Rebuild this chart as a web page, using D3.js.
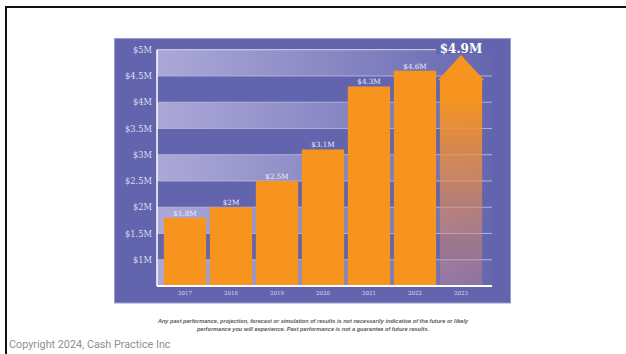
<!DOCTYPE html>
<html>
<head>
<meta charset="utf-8">
<script src="https://cdn.jsdelivr.net/npm/d3@7"></script>
<style>
  html, body { margin: 0; padding: 0; background: #fff; }
  svg { display: block; }
</style>
</head>
<body>
<svg id="chart" width="626" height="354"></svg>
<script>
// Annual revenue, in millions of dollars
const years = ["2017", "2018", "2019", "2020", "2021", "2022", "2023"];
const revenue = [1.8, 2.0, 2.5, 3.1, 4.3, 4.6, 4.9];
const valueLabels = ["$1.8M", "$2M", "$2.5M", "$3.1M", "$4.3M", "$4.6M", "$4.9M"];
const yTicks = [1, 1.5, 2, 2.5, 3, 3.5, 4, 4.5, 5];
const yTickLabels = ["$1M", "$1.5M", "$2M", "$2.5M", "$3M", "$3.5M", "$4M", "$4.5M", "$5M"];
const disclaimer = [
  "Any past performance, projection, forecast or simulation of results is not necessarily indicative of the future or likely",
  "performance you will experience. Past performance is not a guarantee of future results."
];
const copyright = "Copyright 2024, Cash Practice Inc";

const PANEL = "#6264ad";
const ORANGE = "#f7941d";
const SERIF = "'DejaVu Serif', serif";

const svg = d3.select("#chart");
const defs = svg.append("defs");

// Frame lines along the top and left
svg.append("rect").attr("x", 5).attr("y", 6).attr("width", 621).attr("height", 2).attr("fill", "#111");
svg.append("rect").attr("x", 5).attr("y", 6).attr("width", 2).attr("height", 348).attr("fill", "#111");

// Purple panel
svg.append("rect")
  .attr("x", 114.5).attr("y", 38.5).attr("width", 396).attr("height", 264.5)
  .attr("fill", PANEL).attr("stroke", "#9a9bd0").attr("stroke-width", 1);

const plotLeft = 157, plotRight = 492;
const x = d3.scaleBand().domain(years).range([162, 484]).paddingInner(0.08).paddingOuter(0.04);
const y = d3.scaleLinear().domain([0.5, 5]).range([286, 49.7]);

// Alternating shaded bands, fading to the right
const bandGrad = defs.append("linearGradient").attr("id", "bandGrad")
  .attr("gradientUnits", "userSpaceOnUse")
  .attr("x1", plotLeft).attr("x2", plotRight).attr("y1", 0).attr("y2", 0);
bandGrad.append("stop").attr("offset", 0).attr("stop-color", "#aca8d8").attr("stop-opacity", 1);
bandGrad.append("stop").attr("offset", 0.55).attr("stop-color", "#aca8d8").attr("stop-opacity", 0.5);
bandGrad.append("stop").attr("offset", 1).attr("stop-color", "#aca8d8").attr("stop-opacity", 0.04);

const bandEdges = [0.5].concat(yTicks);
const shaded = bandEdges.slice(0, -1).map((lo, i) => [lo, bandEdges[i + 1]])
  .filter((d, i) => i % 2 === 0);
svg.append("g").selectAll("rect").data(shaded).join("rect")
  .attr("x", plotLeft).attr("width", plotRight - plotLeft)
  .attr("y", d => y(d[1])).attr("height", d => y(d[0]) - y(d[1]))
  .attr("fill", "url(#bandGrad)");

// Horizontal gridlines
svg.append("g").selectAll("line").data(yTicks).join("line")
  .attr("x1", plotLeft).attr("x2", plotRight)
  .attr("y1", d => y(d)).attr("y2", d => y(d))
  .attr("stroke", d => d === 5 ? "#d8d8ef" : "#b2b1dc").attr("stroke-width", 1);

// Y axis labels
const yAxis = d3.axisLeft(y).tickValues(yTicks)
  .tickFormat((d, i) => yTickLabels[i]).tickSize(0).tickPadding(5);
svg.append("g").attr("transform", `translate(${plotLeft},0)`).call(yAxis)
  .call(g => g.select(".domain").remove())
  .call(g => g.selectAll("text").attr("fill", "#dedef0")
    .style("font-family", SERIF).style("font-size", "8.3px"));

// Actual bars
const actual = years.slice(0, -1).map((yr, i) => ({ yr, v: revenue[i], label: valueLabels[i] }));
svg.append("g").selectAll("rect").data(actual).join("rect")
  .attr("x", d => x(d.yr)).attr("width", x.bandwidth())
  .attr("y", d => y(d.v)).attr("height", d => y(0.5) - y(d.v))
  .attr("fill", ORANGE);

svg.append("g").selectAll("text").data(actual).join("text")
  .attr("x", d => x(d.yr) + x.bandwidth() / 2)
  .attr("y", d => y(d.v) - 2)
  .attr("text-anchor", "middle")
  .attr("fill", "#eeeef8")
  .style("font-family", SERIF).style("font-size", "7.2px")
  .text(d => d.label);

// Projected year drawn as an upward arrow, fading toward the base
const last = years.length - 1;
const projGrad = defs.append("linearGradient").attr("id", "projGrad")
  .attr("x1", 0).attr("x2", 0).attr("y1", 0).attr("y2", 1);
projGrad.append("stop").attr("offset", 0).attr("stop-color", ORANGE).attr("stop-opacity", 1);
projGrad.append("stop").attr("offset", 0.18).attr("stop-color", ORANGE).attr("stop-opacity", 1);
projGrad.append("stop").attr("offset", 0.6).attr("stop-color", "#f0904a").attr("stop-opacity", 0.62);
projGrad.append("stop").attr("offset", 1).attr("stop-color", "#e08a80").attr("stop-opacity", 0.3);

const ax0 = x(years[last]), ax1 = ax0 + x.bandwidth();
const tipY = y(revenue[last]);
const shoulderY = y(revenue[last] - 0.48);
const arrow = d3.path();
arrow.moveTo(ax0, y(0.5));
arrow.lineTo(ax0, shoulderY);
arrow.lineTo(ax0 - 2, shoulderY);
arrow.lineTo((ax0 + ax1) / 2, tipY);
arrow.lineTo(ax1 + 2, shoulderY);
arrow.lineTo(ax1, shoulderY);
arrow.lineTo(ax1, y(0.5));
arrow.closePath();
svg.append("path").attr("d", arrow.toString()).attr("fill", "url(#projGrad)");

// Projected value label, set on a clear patch of the panel
svg.append("rect").attr("x", 436).attr("y", 44).attr("width", 57).attr("height", 10).attr("fill", PANEL);
svg.append("text")
  .attr("x", (ax0 + ax1) / 2).attr("y", 53)
  .attr("text-anchor", "middle").attr("fill", "#ffffff")
  .style("font-family", SERIF).style("font-size", "12px").style("font-weight", "bold")
  .text(valueLabels[last]);

// Axis lines
svg.append("line").attr("x1", plotLeft).attr("x2", plotLeft).attr("y1", y(5)).attr("y2", y(0.5))
  .attr("stroke", "#ffffff").attr("stroke-width", 1.5);
svg.append("line").attr("x1", plotLeft).attr("x2", plotRight).attr("y1", y(0.5)).attr("y2", y(0.5))
  .attr("stroke", "#ffffff").attr("stroke-width", 2);

// Year labels
const xAxis = d3.axisBottom(x).tickSize(0).tickPadding(5);
svg.append("g").attr("transform", `translate(0,${y(0.5)})`).call(xAxis)
  .call(g => g.select(".domain").remove())
  .call(g => g.selectAll("text").attr("fill", "#dcdcef")
    .style("font-family", SERIF).style("font-size", "5.5px"));

// Disclaimer and copyright
svg.append("g").selectAll("text").data(disclaimer).join("text")
  .attr("x", 313).attr("y", (d, i) => 323 + i * 8)
  .attr("text-anchor", "middle").attr("fill", "#5a5a5a")
  .style("font-family", "'Liberation Sans', Arial, sans-serif")
  .style("font-size", "5.6px").style("font-style", "italic").style("font-weight", "bold")
  .text(d => d);

svg.append("text").attr("x", 9).attr("y", 348).attr("fill", "#8f8f8f")
  .style("font-family", "Roboto, sans-serif").style("font-size", "10.8px")
  .text(copyright);
</script>
</body>
</html>
